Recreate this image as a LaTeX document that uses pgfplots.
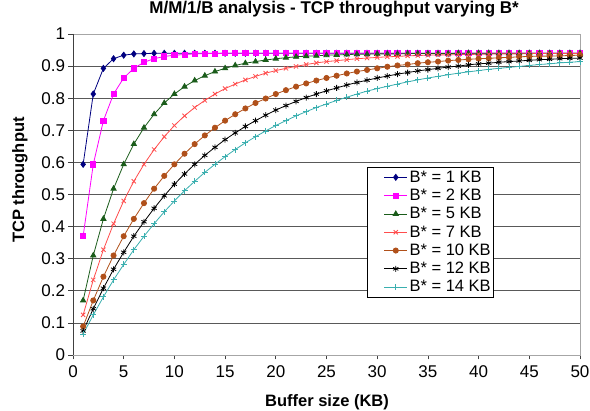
\documentclass[border=0pt]{standalone}
\usepackage{fontspec}
\setmainfont{Liberation Sans}
\usepackage{pgfplots}
\usepackage{pgfplotstable}
\pgfplotsset{compat=1.18}
\definecolor{cA}{HTML}{000080}
\definecolor{cB}{HTML}{FF00FF}
\definecolor{cC}{HTML}{1A5C1A}
\definecolor{cD}{HTML}{FF4D4D}
\definecolor{cE}{HTML}{B0501A}
\definecolor{cF}{HTML}{000000}
\definecolor{cG}{HTML}{3AAFAF}
\pgfplotstableread{
x b1 b2 b5 b7 b10 b12 b14
1 0.594 0.370 0.170 0.125 0.089 0.075 0.065
2 0.813 0.594 0.310 0.234 0.170 0.144 0.125
3 0.893 0.730 0.424 0.328 0.244 0.208 0.181
4 0.923 0.813 0.518 0.409 0.310 0.267 0.234
5 0.934 0.863 0.594 0.480 0.370 0.320 0.282
6 0.938 0.893 0.657 0.541 0.424 0.370 0.328
7 0.939 0.912 0.708 0.594 0.473 0.415 0.370
8 0.940 0.923 0.750 0.640 0.518 0.457 0.409
9 0.940 0.930 0.785 0.680 0.558 0.496 0.446
10 0.940 0.934 0.813 0.715 0.594 0.532 0.480
11 0.940 0.936 0.836 0.745 0.627 0.564 0.512
12 0.940 0.938 0.855 0.771 0.657 0.594 0.541
13 0.940 0.939 0.870 0.793 0.684 0.622 0.569
14 0.940 0.939 0.883 0.813 0.708 0.647 0.594
15 0.940 0.940 0.893 0.830 0.730 0.671 0.618
16 0.940 0.940 0.902 0.844 0.750 0.692 0.640
17 0.940 0.940 0.909 0.857 0.768 0.712 0.661
18 0.940 0.940 0.914 0.868 0.785 0.730 0.680
19 0.940 0.940 0.919 0.878 0.799 0.747 0.698
20 0.940 0.940 0.923 0.886 0.813 0.763 0.715
21 0.940 0.940 0.926 0.893 0.825 0.777 0.730
22 0.940 0.940 0.929 0.899 0.836 0.790 0.745
23 0.940 0.940 0.931 0.905 0.846 0.802 0.758
24 0.940 0.940 0.932 0.910 0.855 0.813 0.771
25 0.940 0.940 0.934 0.914 0.863 0.823 0.782
26 0.940 0.940 0.935 0.917 0.870 0.832 0.793
27 0.940 0.940 0.936 0.920 0.877 0.841 0.803
28 0.940 0.940 0.937 0.923 0.883 0.849 0.813
29 0.940 0.940 0.937 0.925 0.888 0.856 0.822
30 0.940 0.940 0.938 0.927 0.893 0.863 0.830
31 0.940 0.940 0.938 0.929 0.898 0.869 0.837
32 0.940 0.940 0.938 0.930 0.902 0.875 0.844
33 0.940 0.940 0.939 0.932 0.905 0.880 0.851
34 0.940 0.940 0.939 0.933 0.909 0.885 0.857
35 0.940 0.940 0.939 0.934 0.912 0.889 0.863
36 0.940 0.940 0.939 0.935 0.914 0.893 0.868
37 0.940 0.940 0.939 0.935 0.917 0.897 0.873
38 0.940 0.940 0.940 0.936 0.919 0.900 0.878
39 0.940 0.940 0.940 0.936 0.921 0.904 0.882
40 0.940 0.940 0.940 0.937 0.923 0.907 0.886
41 0.940 0.940 0.940 0.937 0.924 0.909 0.890
42 0.940 0.940 0.940 0.938 0.926 0.912 0.893
43 0.940 0.940 0.940 0.938 0.927 0.914 0.896
44 0.940 0.940 0.940 0.938 0.929 0.916 0.899
45 0.940 0.940 0.940 0.939 0.930 0.918 0.902
46 0.940 0.940 0.940 0.939 0.931 0.920 0.905
47 0.940 0.940 0.940 0.939 0.931 0.921 0.907
48 0.940 0.940 0.940 0.939 0.932 0.923 0.910
49 0.940 0.940 0.940 0.939 0.933 0.924 0.912
50 0.940 0.940 0.940 0.939 0.934 0.925 0.914
}\datatable
\begin{document}
\begin{tikzpicture}
\useasboundingbox (-73pt,-56pt) rectangle (517pt,355pt);
\begin{axis}[
  at={(0,0)}, anchor=south west,
  scale only axis, width=507pt, height=321pt,
  xmin=0, xmax=50, ymin=0, ymax=1,
  xtick={0,5,...,50},
  ytick={0,0.1,0.2,0.3,0.4,0.5,0.6,0.7,0.8,0.9,1},
  yticklabels={0,0.1,0.2,0.3,0.4,0.5,0.6,0.7,0.8,0.9,1},
  /pgf/number format/assume math mode=true,
  ticklabel style={font=\fontsize{17}{19}\selectfont},
  xticklabel style={yshift=-3pt},
  tick align=outside, major tick length=4.5pt,
  xtick pos=bottom, ytick pos=left,
  tick style={black!75, line width=0.6pt},
  ymajorgrids, grid style={black!65, line width=0.7pt},
  axis line style={black!35, line width=0.6pt},
  title={M/M/1/B analysis - TCP throughput varying B*},
  title style={font=\bfseries\fontsize{17}{19}\selectfont, at={(axis description cs:0.515,1)}, anchor=base, yshift=14pt},
  xlabel={Buffer size (KB)},
  xlabel style={font=\bfseries\fontsize{16.5}{18}\selectfont, at={(axis description cs:0.501,0)}, anchor=base, yshift=-52pt},
  ylabel={TCP throughput},
  ylabel style={font=\bfseries\fontsize{16.5}{18}\selectfont, at={(axis description cs:-0.1045,0.545)}, anchor=center},
  legend cell align=left,
  legend style={at={(0.58,0.586)}, anchor=north west, draw=black, fill=white,
    line width=0.6pt, inner sep=1pt,
    font=\fontsize{16.5}{16.5}\selectfont,
    nodes={inner sep=2pt, text height=12pt, text depth=2.3pt},
    row sep=0pt},
  legend image code/.code={%
    \path (-0.55cm,0cm);
    \draw[mark repeat=2,mark phase=2] plot coordinates {(0cm,0cm) (0.4cm,0cm) (0.8cm,0cm)};},
  every axis plot/.append style={line width=0.8pt},
]
\addplot[color=cA, mark=diamond*, mark size=3pt, mark options={solid}] table[x=x,y=b1] {\datatable};
\addlegendentry{B* = 1 KB}
\addplot[color=cB, mark=square*, mark size=2.6pt] table[x=x,y=b2] {\datatable};
\addlegendentry{B* = 2 KB}
\addplot[color=cC, mark=triangle*, mark size=3pt] table[x=x,y=b5] {\datatable};
\addlegendentry{B* = 5 KB}
\addplot[color=cD, mark=x, mark size=3pt] table[x=x,y=b7] {\datatable};
\addlegendentry{B* = 7 KB}
\addplot[color=cE, mark=*, mark size=2.6pt] table[x=x,y=b10] {\datatable};
\addlegendentry{B* = 10 KB}
\addplot[color=cF, mark=asterisk, mark size=3pt] table[x=x,y=b12] {\datatable};
\addlegendentry{B* = 12 KB}
\addplot[color=cG, mark=+, mark size=3pt] table[x=x,y=b14] {\datatable};
\addlegendentry{B* = 14 KB}
\draw[black!75, line width=0.7pt] (rel axis cs:0,1) -- (rel axis cs:0,0) -- (rel axis cs:1,0);
\end{axis}
\end{tikzpicture}
\end{document}
